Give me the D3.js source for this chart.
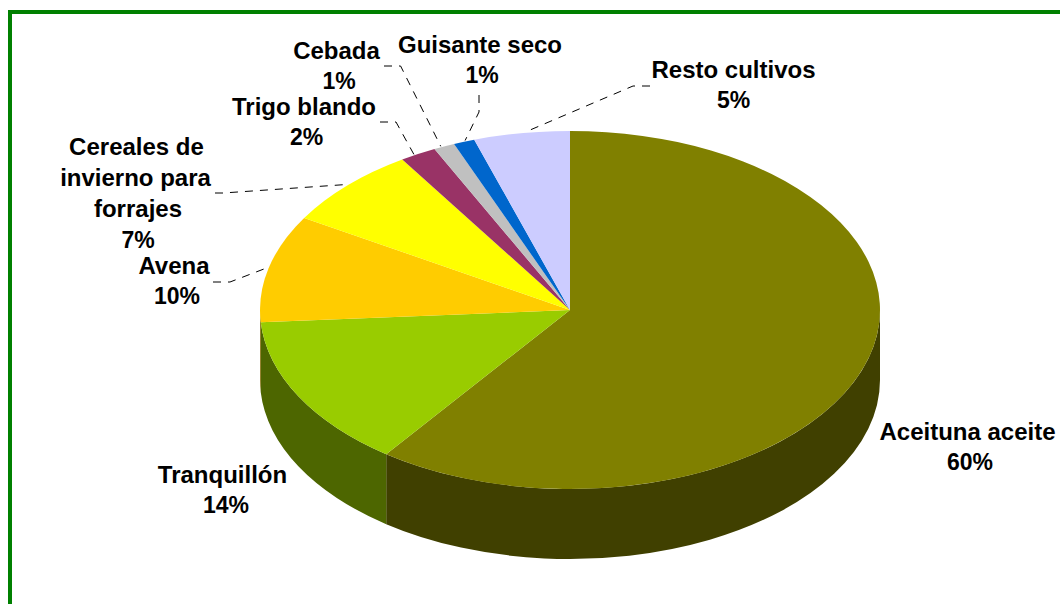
<!DOCTYPE html>
<html>
<head>
<meta charset="utf-8">
<script src="https://cdn.jsdelivr.net/npm/d3@7/dist/d3.min.js"></script>
<style>
html,body{margin:0;padding:0;background:#fff;overflow:hidden}
svg{display:block}
text{font-family:"Liberation Sans",Arial,sans-serif;font-weight:bold;font-size:24px;fill:#000;text-anchor:middle;dominant-baseline:central}
text.pct{font-size:23px}
</style>
</head>
<body>
<svg id="chart" width="1060" height="604"></svg>
<script>
// Data
const categories = ["Aceituna aceite","Tranquillón","Avena","Cereales de invierno para forrajes","Trigo blando","Cebada","Guisante seco","Resto cultivos"];
const shares = [60.1,13.8,9.7,7.3,1.9,1.1,1.1,5.0];
const topColors = ["#808000","#99CC00","#FFCC00","#FFFF00","#993366","#C0C0C0","#0066CC","#CCCCFF"];
const wallColors = ["#404000","#4D6600","#806600","#808000","#4D1A33","#606060","#003366","#666680"];

// Annotation layout: one x per row, the last row is the percentage
const labelLines = [["Aceituna aceite"],["Tranquillón"],["Avena"],["Cereales de","invierno para","forrajes"],["Trigo blando"],["Cebada"],["Guisante seco"],["Resto cultivos"]];
const labelRowX = [[967.5,970],[222.5,226],[174,177],[136.5,135.5,138,138],[304,306.5],[336.5,339],[480,482],[733.5,733.5]];
const labelY = [431,474,265,146,106,50,44,69];
const lineStep = 31.2;
const leaderStart = [null,null,[213,282],[215,193],[380,122],[384,66],[479,95],[650,86]];
const leaderElbow = [null,null,[230,282],[223,193],[396,122],[400.6,66],[479,112],[633,86]];
const leaderNudgeDeg = [0,0,0,0,-0.9,-0.7,0.2,0.8];

const width = 1060, height = 604;
const cx = 570, cy = 310, rx = 310, ry = 179, depth = 70;

const svg = d3.select("#chart");
svg.append("rect").attr("width",width).attr("height",height).attr("fill","#fff");
svg.append("path").attr("d",`M10,${height}V12H${width}`).attr("fill","none").attr("stroke","#008000").attr("stroke-width",4);

const pie = d3.pie().sort(null).value(d=>d)(shares);
const total = d3.sum(shares);
const pct = d3.format(".0%");
const px = a => cx + rx*Math.sin(a);
const py = a => cy - ry*Math.cos(a);

const g = svg.append("g");
// side walls (front half only)
const lo = Math.PI/2, hi = 3*Math.PI/2;
g.selectAll("path.wall").data(pie.filter(d=>d.endAngle>lo && d.startAngle<hi)).join("path")
  .attr("class","wall")
  .attr("fill",d=>wallColors[d.index])
  .attr("d",d=>{
    const a0 = Math.max(d.startAngle,lo), a1 = Math.min(d.endAngle,hi);
    const large = (a1-a0)>Math.PI?1:0;
    return `M${px(a0)},${py(a0)}A${rx},${ry} 0 ${large} 1 ${px(a1)},${py(a1)}`+
           `L${px(a1)},${py(a1)+depth}A${rx},${ry} 0 ${large} 0 ${px(a0)},${py(a0)+depth}Z`;
  });
// top face
const arc = d3.arc().innerRadius(0).outerRadius(rx);
g.append("g").attr("transform",`translate(${cx},${cy}) scale(1,${ry/rx})`)
  .selectAll("path").data(pie).join("path")
  .attr("fill",d=>topColors[d.index]).attr("d",arc);

// leader lines
const line = d3.line();
svg.append("g").selectAll("path").data(pie.filter(d=>leaderStart[d.index])).join("path")
  .attr("fill","none").attr("stroke","#000").attr("stroke-width",1).attr("stroke-dasharray","8,7")
  .attr("d",d=>{
    const mid = (d.startAngle+d.endAngle)/2 + leaderNudgeDeg[d.index]*Math.PI/180;
    return line([leaderStart[d.index],leaderElbow[d.index],[px(mid),py(mid)-1]]);
  });

// labels
svg.append("g").selectAll("text").data(pie.flatMap(d=>{
    const rows = labelLines[d.index].concat(pct(d.value/total));
    return rows.map((t,i)=>({t,isPct:i===rows.length-1,x:labelRowX[d.index][i],y:labelY[d.index]+i*lineStep}));
  })).join("text")
  .attr("class",d=>d.isPct?"pct":null)
  .attr("x",d=>d.x).attr("y",d=>d.y).text(d=>d.t);
</script>
</body>
</html>
